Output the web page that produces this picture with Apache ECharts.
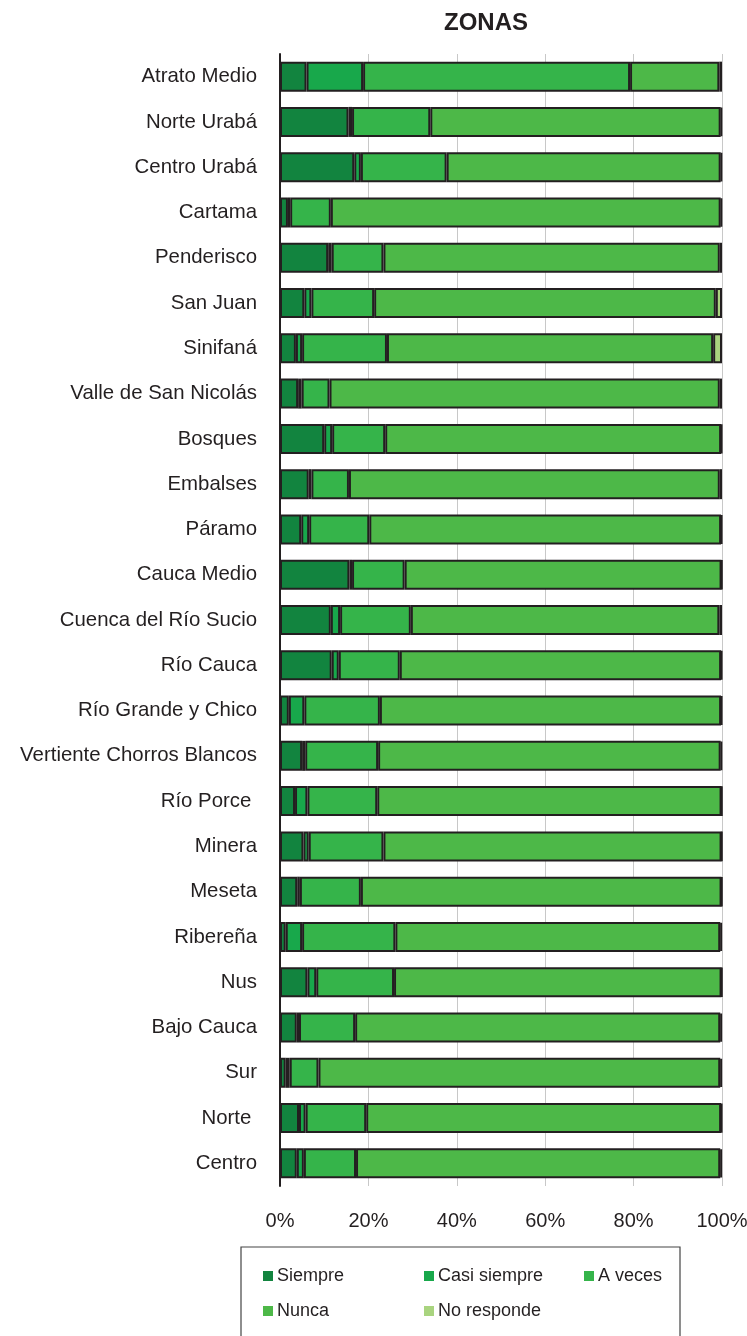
<!DOCTYPE html>
<html>
<head>
<meta charset="utf-8">
<script src="https://cdn.jsdelivr.net/npm/echarts@6/dist/echarts.min.js"></script>
<style>
html,body{margin:0;padding:0;background:#fff;}
#c{width:747px;height:1336px;}
</style>
</head>
<body>
<div id="c"></div>
<script>
var categories = ['Atrato Medio','Norte Urabá','Centro Urabá','Cartama','Penderisco','San Juan','Sinifaná','Valle de San Nicolás','Bosques','Embalses','Páramo','Cauca Medio','Cuenca del Río Sucio','Río Cauca','Río Grande y Chico','Vertiente Chorros Blancos','Río Porce ','Minera','Meseta','Ribereña','Nus','Bajo Cauca','Sur','Norte ','Centro'];
var siempre     = [6.0, 15.5, 16.8, 1.8, 10.9, 5.5, 3.6, 4.1, 10.0, 6.5, 4.8, 15.7, 11.5, 11.7, 2.0, 5.0, 3.4, 5.3, 3.9, 1.3, 6.2, 3.8, 1.3, 4.3, 3.8];
var casiSiempre = [12.8, 0.8, 1.5, 0.5, 0.8, 1.6, 1.4, 0.8, 1.8, 0.6, 1.8, 0.6, 2.1, 1.6, 3.5, 0.7, 2.8, 1.2, 0.6, 3.7, 2.0, 0.5, 0.9, 1.5, 1.6];
var aVeces      = [60.4, 17.7, 19.4, 9.2, 11.7, 14.2, 19.2, 6.3, 12.0, 8.5, 13.6, 11.9, 16.0, 13.8, 17.1, 16.5, 15.8, 16.9, 13.8, 21.1, 17.6, 12.7, 6.5, 13.7, 11.8];
var nunca       = [20.2, 65.7, 62.0, 88.2, 76.1, 77.3, 73.8, 88.3, 76.0, 83.9, 79.6, 71.7, 69.8, 72.7, 77.2, 77.5, 77.9, 76.5, 81.6, 73.5, 74.1, 82.6, 90.9, 80.3, 82.4];
var noResponde  = [0.6, 0.3, 0.3, 0.3, 0.5, 1.4, 2.0, 0.5, 0.2, 0.5, 0.2, 0.1, 0.6, 0.2, 0.2, 0.3, 0.1, 0.1, 0.1, 0.4, 0.1, 0.4, 0.4, 0.2, 0.4];
var seriesNames = ['Siempre','Casi siempre','A veces','Nunca','No responde'];
var xTicks = [0, 20, 40, 60, 80, 100];

var colors = ['#12843f','#18a84b','#35b44a','#4db848','#a9d47f'];
var seriesData = [siempre, casiSiempre, aVeces, nunca, noResponde];
var FONT = '"Liberation Sans", Arial, Helvetica, sans-serif';

var chart = echarts.init(document.getElementById('c'), null, {renderer:'canvas'});
var series = seriesNames.map(function(n, i){
  return {
    name: n, type: 'bar', stack: 'total', barWidth: 30,
    data: seriesData[i],
    itemStyle: {color: colors[i], borderColor: '#231f20', borderWidth: 2},
    emphasis: {disabled: true}
  };
});
function legendAt(name, left, top){
  return {data:[name], left:left, top:top, padding:0, itemWidth:10, itemHeight:10, icon:'rect',
    selectedMode:false, itemStyle:{borderWidth:0},
    textStyle:{fontFamily:FONT, fontSize:18, color:'#231f20', padding:[0,0,0,-1]}};
}
chart.setOption({
  animation: false,
  color: colors,
  title: {text:'ZONAS', left:444, top:11, padding:0,
    textStyle:{fontFamily:FONT, fontSize:24, fontWeight:'bold', color:'#231f20'}},
  grid: {left:280, right:25, top:54, bottom:150, containLabel:false, outerBoundsMode:'none'},
  xAxis: {type:'value', min:0, max:100, interval:20,
    axisLine:{show:false}, axisTick:{show:false},
    splitLine:{show:true, lineStyle:{color:'#c8c8c8', width:1}},
    axisLabel:{fontFamily:FONT, fontSize:20, color:'#231f20', margin:25,
      formatter:function(v){ return xTicks.indexOf(v) >= 0 ? v + '%' : ''; }}},
  yAxis: {type:'category', data:categories, inverse:true,
    axisLine:{show:true, lineStyle:{color:'#231f20', width:2}},
    axisTick:{show:false},
    axisLabel:{fontFamily:FONT, fontSize:20.4, color:'#231f20', margin:23, padding:[4,0,0,0]}},
  legend: [
    legendAt('Siempre', 263, 1267),
    legendAt('Casi siempre', 424, 1267),
    legendAt('A veces', 584, 1267),
    legendAt('Nunca', 263, 1302),
    legendAt('No responde', 424, 1302)
  ],
  graphic: [{type:'rect', x:241, y:1247, shape:{x:0, y:0, width:439, height:100},
    style:{fill:'none', stroke:'#444', lineWidth:1.2}, silent:true}],
  series: series
});
</script>
</body>
</html>
